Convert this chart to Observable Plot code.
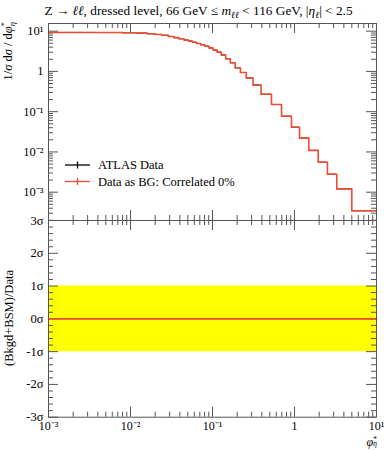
<!DOCTYPE html>
<html><head><meta charset="utf-8">
<script src="https://cdn.jsdelivr.net/npm/d3@7"></script>
<script src="https://cdn.jsdelivr.net/npm/@observablehq/plot@0.6"></script>
<style>
body{margin:0;background:#fff;}
#wrap{position:relative;width:389px;height:450px;font-family:"Liberation Serif",serif;color:#000;overflow:hidden}
#title{position:absolute;left:4px;width:389px;top:4px;text-align:center;font-size:13.3px;line-height:13px;white-space:nowrap;}
#title sub{font-size:9.5px;vertical-align:-3px;line-height:0}
#wrap svg{position:absolute;left:0;overflow:visible}
#wrap svg text{font-family:"Liberation Serif",serif !important;}
</style></head><body><div id="wrap"><div id="title">Z → <i>ℓℓ</i>, dressed level, 66 GeV ≤ <i>m</i><sub><i>ℓℓ</i></sub> &lt; 116 GeV, |<i>η</i><sub><i>ℓ</i></sub>| &lt; 2.5</div></div>
<script>
// φ*_η bin edges
const binEdges = [0,0.004,0.008,0.012,0.016,0.020,0.024,0.029,0.034,0.039,0.045,0.051,0.057,0.064,0.072,0.081,0.091,0.102,0.114,0.128,0.145,0.165,0.189,0.219,0.258,0.312,0.391,0.524,0.695,0.918,1.153,1.496,1.947,2.522,3.277,5,10];
// ATLAS data: 1/σ dσ/dφ*_η
const atlasData = [9.29,9.24,9.12,8.93,8.63,8.28,7.91,7.38,6.90,6.47,6.04,5.68,5.30,4.95,4.59,4.22,3.83,3.41,3.01,2.56,2.06,1.64,1.23,0.94,0.688,0.461,0.272,0.151,0.0773,0.0412,0.022,0.0109,0.00556,0.0028,0.00121,0.000345];
// Data as BG: Correlated 0%
const bgPrediction = [9.29,9.24,9.12,8.93,8.63,8.28,7.91,7.38,6.90,6.47,6.04,5.68,5.30,4.95,4.59,4.22,3.83,3.41,3.01,2.56,2.06,1.64,1.23,0.94,0.688,0.461,0.272,0.151,0.0773,0.0412,0.022,0.0109,0.00556,0.0028,0.00121,0.000345];
// (Bkgd+BSM)/Data deviation in σ
const pullValues = [0,0,0,0,0,0,0,0,0,0,0,0,0,0,0,0,0,0,0,0,0,0,0,0,0,0,0,0,0,0,0,0,0,0,0,0];
const bandLow = -1, bandHigh = 1;
const xTicks = [0.001,0.01,0.1,1,10];
const xTickLabels = ["10⁻³","10⁻²","10⁻¹","1","10¹"];
const yTopTicks = [0.001,0.01,0.1,1,10];
const yTopTickLabels = ["10⁻³","10⁻²","10⁻¹","1","10¹"];
const yBottomTicks = [-3,-2,-1,0,1,2,3];
const yBottomTickLabels = ["-3σ","-2σ","-1σ","0σ","1σ","2σ","3σ"];

const xDomain = [1e-3, 10];
const yTopDomain = [1.98e-4, 15.5];
const FONT = "Liberation Serif, serif";
const RED = "#ee4a32", FR = "#555";
const W = 389, ML = 48, MR = 13;
const frameW = W - ML - MR;

const minorLog = (dom) => { const s = d3.scaleLog().domain(dom); return s.ticks(50).filter(t => Math.abs(Math.log10(t) - Math.round(Math.log10(t))) > 1e-6); };
const xMinor = minorLog(xDomain);
const yTopMinor = minorLog(yTopDomain);
const yBotMinor = d3.range(-30, 31, 2).filter(v => v % 10 !== 0).map(v => v / 10);

function stepPoints(vals){
  const pts=[];
  vals.forEach((v,i)=>{ pts.push({x:Math.max(binEdges[i], xDomain[0]), y:v}, {x:binEdges[i+1], y:v}); });
  return pts;
}
const bins = atlasData.map((v,i)=>({lo:Math.max(binEdges[i], xDomain[0]), hi:binEdges[i+1], v}));

function frameTicks(frameH, yMajor, yMinor){
  const tk = {stroke: FR, strokeWidth: 1};
  return [
    Plot.tickX(xTicks, {x: d=>d, ...tk, insetTop: frameH-10}),
    Plot.tickX(xTicks, {x: d=>d, ...tk, insetBottom: frameH-10}),
    Plot.tickX(xMinor, {x: d=>d, ...tk, insetTop: frameH-5}),
    Plot.tickX(xMinor, {x: d=>d, ...tk, insetBottom: frameH-5}),
    Plot.tickY(yMajor, {y: d=>d, ...tk, insetRight: frameW-10}),
    Plot.tickY(yMajor, {y: d=>d, ...tk, insetLeft: frameW-10}),
    Plot.tickY(yMinor, {y: d=>d, ...tk, insetRight: frameW-5}),
    Plot.tickY(yMinor, {y: d=>d, ...tk, insetLeft: frameW-5}),
  ];
}

// ---------- top panel ----------
const topMT = 23, topMB = 10, topH = 230;
const topFrameH = topH - topMT - topMB;
const topSvg = Plot.plot({
  width: W, height: topH, marginLeft: ML, marginRight: MR, marginTop: topMT, marginBottom: topMB,
  style: {fontFamily: FONT, fontSize: "12px", color: "#000", background: "transparent"},
  x: {type: "log", domain: xDomain, axis: null},
  y: {type: "log", domain: yTopDomain, axis: null},
  marks: [
    ...frameTicks(topFrameH, yTopTicks, yTopMinor),
    Plot.axisY(yTopTicks, {tickSize: 0, tickPadding: 5, tickFormat: d => yTopTickLabels[yTopTicks.indexOf(d)], label: null, fontSize: 12.5}),
    Plot.ruleY(bins, {x1: "lo", x2: "hi", y: "v", stroke: "#000", strokeWidth: 1}),
    Plot.line(stepPoints(bgPrediction), {x: "x", y: "y", stroke: RED, strokeWidth: 1.6}),
    Plot.frame({stroke: FR, strokeWidth: 1})
  ]
});
topSvg.style.top = "0px";
document.getElementById("wrap").appendChild(topSvg);

// ---------- bottom panel ----------
const botTop = 210, botMT = 10, botFrameH = 196.7, botH = 240;
const botMB = botH - botMT - botFrameH;
const botSvg = Plot.plot({
  width: W, height: botH, marginLeft: ML, marginRight: MR, marginTop: botMT, marginBottom: botMB,
  style: {fontFamily: FONT, fontSize: "12px", color: "#000", background: "transparent"},
  x: {type: "log", domain: xDomain, axis: null},
  y: {domain: [-3, 3], axis: null},
  marks: [
    Plot.areaY(stepPoints(pullValues), {x: "x", y1: () => bandLow, y2: () => bandHigh, fill: "#ffff00"}),
    ...frameTicks(botFrameH, yBottomTicks, yBotMinor),
    Plot.axisY(yBottomTicks, {tickSize: 0, tickPadding: 5, tickFormat: d => yBottomTickLabels[yBottomTicks.indexOf(d)], label: null, fontSize: 12.5}),
    Plot.axisX(xTicks, {tickSize: 0, tickPadding: 4.5, tickFormat: d => xTickLabels[xTicks.indexOf(d)], label: null, fontSize: 12}),
    Plot.line(stepPoints(pullValues), {x: "x", y: "y", stroke: RED, strokeWidth: 1.6}),
    Plot.frame({stroke: FR, strokeWidth: 1})
  ]
});
botSvg.style.top = botTop + "px";
document.getElementById("wrap").appendChild(botSvg);

// ---------- labels & legend ----------
const ts = d3.select(topSvg);
const yl = ts.append("text").attr("transform","translate(12,22) rotate(-90)").attr("text-anchor","end")
  .attr("font-family",FONT).attr("font-size",12.5).attr("fill","#000");
yl.append("tspan").text("1/");
yl.append("tspan").attr("font-style","italic").text("σ");
yl.append("tspan").text(" d");
yl.append("tspan").attr("font-style","italic").text("σ");
yl.append("tspan").text(" / d");
yl.append("tspan").attr("font-style","italic").text("φ");
yl.append("tspan").attr("font-size",8).attr("dy",-5).text("*");
yl.append("tspan").attr("font-size",8.5).attr("font-style","italic").attr("dx",-4).attr("dy",8).text("η");

const leg = [{label:"ATLAS Data", color:"#000", y:165},{label:"Data as BG: Correlated 0%", color:RED, y:181.5}];
leg.forEach(l=>{
  ts.append("line").attr("x1",65).attr("x2",90).attr("y1",l.y).attr("y2",l.y).attr("stroke",l.color).attr("stroke-width",1.3);
  ts.append("line").attr("x1",77.5).attr("x2",77.5).attr("y1",l.y-3.5).attr("y2",l.y+3.5).attr("stroke",l.color).attr("stroke-width",1.3);
  ts.append("text").attr("x",98).attr("y",l.y+4).attr("text-anchor","start").attr("font-family",FONT).attr("font-size",12.5).attr("fill","#000").text(l.label);
});

const bs = d3.select(botSvg);
bs.append("text").attr("transform",`translate(13,${318-botTop}) rotate(-90)`).attr("text-anchor","middle")
  .attr("font-family",FONT).attr("font-size",12.5).attr("fill","#000").text("(Bkgd+BSM)/Data");
const xl = bs.append("text").attr("x",377).attr("y",446-botTop).attr("text-anchor","end")
  .attr("font-family",FONT).attr("font-size",12).attr("fill","#000");
xl.append("tspan").attr("font-style","italic").text("φ");
xl.append("tspan").attr("font-size",7.5).attr("dy",-4).text("*");
xl.append("tspan").attr("font-size",8).attr("font-style","italic").attr("dx",-4).attr("dy",3.5).text("η");
</script></body></html>
